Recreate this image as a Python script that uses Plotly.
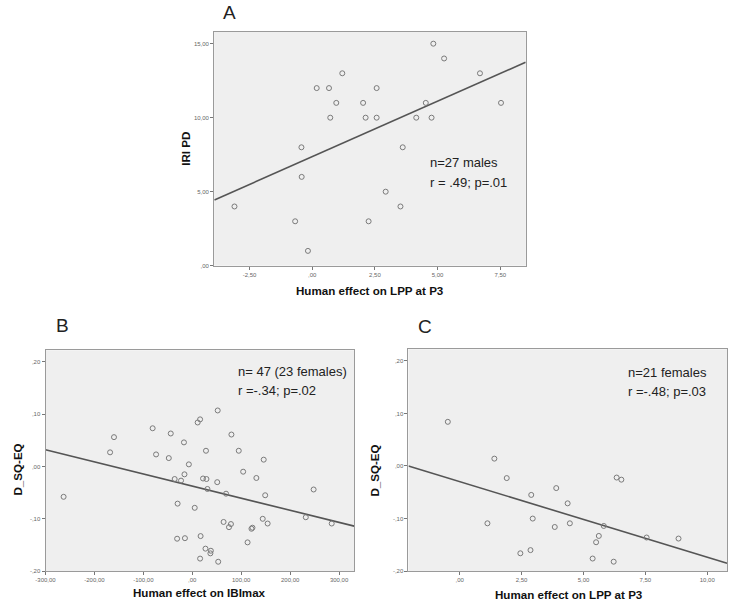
import plotly.graph_objects as go

# ---------------- data ----------------
# Panel A: Human effect on LPP at P3 (x) vs IRI PD (y), n=27 males
a_x = [-3.10, -0.68, -0.17, -0.43, -0.42, 0.18, 0.67, 1.20, 0.96, 0.72, 2.03, 2.13, 2.57,
       2.57, 2.25, 2.93, 3.52, 3.61, 4.15, 4.53, 4.76, 4.83, 5.26, 6.69, 7.53]
a_y = [4, 3, 1, 8, 6, 12, 12, 13, 11, 10, 11, 10, 12,
       10, 3, 5, 4, 8, 10, 11, 10, 15, 14, 13, 11]
a_fit_x = [-3.90, 8.51]
a_fit_y = [4.44, 13.74]

# Panel B: Human effect on IBImax (x) vs D_SQ-EQ (y), n=47
b_x = [-263, -168, -160, -81, -74, -44, -48, -17, -7, -16, -36, -23, -30, 5, -31, -15,
       11, 16, 52, 28, 22, 29, 31, 51, 69, 80, 95, 104, 131, 146, 149, 64, 79, 75,
       123, 121, 144, 154, 113, 17, 27, 38, 37, 16, 53, 248, 232, 285]
b_y = [-0.058, 0.027, 0.056, 0.073, 0.023, 0.063, 0.016, 0.046, 0.004, -0.015, -0.024,
       -0.027, -0.071, -0.079, -0.138, -0.137, 0.084, 0.090, 0.107, 0.030, -0.023,
       -0.024, -0.043, -0.030, -0.052, 0.061, 0.030, -0.010, -0.022, 0.013, -0.055,
       -0.106, -0.110, -0.116, -0.117, -0.119, -0.100, -0.109, -0.145, -0.133, -0.157,
       -0.161, -0.166, -0.176, -0.182, -0.044, -0.097, -0.109]
b_fit_x = [-300, 331]
b_fit_y = [0.032, -0.114]

# Panel C: Human effect on LPP at P3 (x) vs D_SQ-EQ (y), n=21 females
c_x = [-0.48, 1.40, 1.90, 1.12, 2.89, 2.95, 2.45, 2.86, 3.90, 4.36, 3.84, 4.45, 6.34,
       6.53, 5.82, 5.62, 5.51, 5.37, 6.22, 7.55, 8.84]
c_y = [0.084, 0.014, -0.023, -0.109, -0.055, -0.100, -0.166, -0.160, -0.042, -0.071,
       -0.116, -0.109, -0.022, -0.026, -0.114, -0.133, -0.145, -0.176, -0.182, -0.136,
       -0.138]
c_fit_x = [-2.07, 10.8]
c_fit_y = [0.0, -0.185]

# tick labels
a_xticks = [-2.5, 0, 2.5, 5, 7.5]
a_xticktext = ["-2,50", ",00", "2,50", "5,00", "7,50"]
a_yticks = [0, 5, 10, 15]
a_yticktext = [",00", "5,00", "10,00", "15,00"]
b_xticks = [-300, -200, -100, 0, 100, 200, 300]
b_xticktext = ["-300,00", "-200,00", "-100,00", ",00", "100,00", "200,00", "300,00"]
d_yticks = [-0.2, -0.1, 0, 0.1, 0.2]
d_yticktext = ["-,20", "-,10", ",00", ",10", ",20"]
c_xticks = [0, 2.5, 5, 7.5, 10]
c_xticktext = [",00", "2,50", "5,00", "7,50", "10,00"]

# ---------------- figure ----------------
W, H = 730, 606
fig = go.Figure()

marker = dict(symbol="circle-open", size=5, color="#7a7a7a", line=dict(width=1, color="#7a7a7a"))
fitline = dict(color="#555555", width=1.6)

panels = [
    ("x", "y", a_x, a_y, a_fit_x, a_fit_y),
    ("x2", "y2", b_x, b_y, b_fit_x, b_fit_y),
    ("x3", "y3", c_x, c_y, c_fit_x, c_fit_y),
]
for xa, ya, px, py, fx, fy in panels:
    fig.add_trace(go.Scatter(x=fx, y=fy, mode="lines", line=fitline, xaxis=xa, yaxis=ya,
                             showlegend=False, hoverinfo="skip"))
    fig.add_trace(go.Scatter(x=px, y=py, mode="markers", marker=marker, xaxis=xa, yaxis=ya,
                             showlegend=False))

def dom_x(l, r):
    return [l / W, r / W]

def dom_y(t, b):
    return [1 - b / H, 1 - t / H]

tickfont = dict(family="Liberation Sans, Arial, sans-serif", size=6, color="#666666")
axis_common = dict(showgrid=False, zeroline=False, showline=True, linecolor="#9a9a9a",
                   linewidth=1, mirror=True, ticks="outside", ticklen=3, tickwidth=1,
                   tickcolor="#777777", tickfont=tickfont, fixedrange=True)

fig.update_layout(
    width=W, height=H,
    margin=dict(l=0, r=0, t=0, b=0),
    paper_bgcolor="white",
    plot_bgcolor="#efefef",
    showlegend=False,
    xaxis=dict(domain=dom_x(207, 523), range=[-3.91, 8.52], tickvals=a_xticks,
               ticktext=a_xticktext, anchor="y", **axis_common),
    yaxis=dict(domain=dom_y(32, 267), range=[0, 15.8], tickvals=a_yticks,
               ticktext=a_yticktext, anchor="x", **axis_common),
    xaxis2=dict(domain=dom_x(36, 349), range=[-300, 331], tickvals=b_xticks,
                ticktext=b_xticktext, anchor="y2", **axis_common),
    yaxis2=dict(domain=dom_y(352, 574), range=[-0.2, 0.222], tickvals=d_yticks,
                ticktext=d_yticktext, anchor="x2", **axis_common),
    xaxis3=dict(domain=dom_x(404, 727), range=[-2.07, 10.8], tickvals=c_xticks,
                ticktext=c_xticktext, anchor="y3", **axis_common),
    yaxis3=dict(domain=dom_y(351, 574), range=[-0.2, 0.222], tickvals=d_yticks,
                ticktext=d_yticktext, anchor="x3", **axis_common),
)

def pap(x, y):
    return x / W, 1 - y / H

annots = []
# Panel letters
for letter, (lx, ly) in [("A", (223, 13)), ("B", (53, 327)), ("C", (421, 328))]:
    x, y = pap(lx, ly)
    annots.append(dict(text=letter, x=x, y=y, xref="paper", yref="paper", showarrow=False,
                       xanchor="center", yanchor="middle",
                       font=dict(family="Liberation Sans, Arial, sans-serif", size=19, color="#222222")))

# Axis titles
title_font = dict(family="Liberation Sans, Arial, sans-serif", size=11.6, color="#111111")
for txt, (tx, ty) in [("<b>Human effect on LPP at P3</b>", (365, 292)),
                      ("<b>Human effect on IBImax</b>", (192, 595)),
                      ("<b>Human effect on LPP at P3</b>", (567, 597))]:
    x, y = pap(tx, ty)
    annots.append(dict(text=txt, x=x, y=y, xref="paper", yref="paper", showarrow=False,
                       xanchor="center", yanchor="middle", font=title_font))
for txt, (tx, ty) in [("<b>IRI PD</b>", (178, 150)),
                      ("<b>D_SQ-EQ</b>", (8, 472)),
                      ("<b>D_SQ-EQ</b>", (370, 473))]:
    x, y = pap(tx, ty)
    annots.append(dict(text=txt, x=x, y=y, xref="paper", yref="paper", showarrow=False,
                       xanchor="center", yanchor="middle", textangle=-90, font=title_font))

# Stats text
stat_font = dict(family="Liberation Sans, Arial, sans-serif", size=13, color="#222222")
for txt, (tx, ty) in [("n=27 males", (424, 163)), ("r = .49; p=.01", (424, 183)),
                      ("n= 47 (23 females)", (229, 373)), ("r =-.34; p=.02", (229, 392)),
                      ("n=21 females", (625, 374)), ("r =-.48; p=.03", (625, 393))]:
    x, y = pap(tx, ty)
    annots.append(dict(text=txt, x=x, y=y, xref="paper", yref="paper", showarrow=False,
                       xanchor="left", yanchor="middle", font=stat_font))

fig.update_layout(annotations=annots)

fig.write_html("out.html", config={"displayModeBar": False},
               post_script="document.body.style.margin='0';document.body.style.overflow='hidden';")
